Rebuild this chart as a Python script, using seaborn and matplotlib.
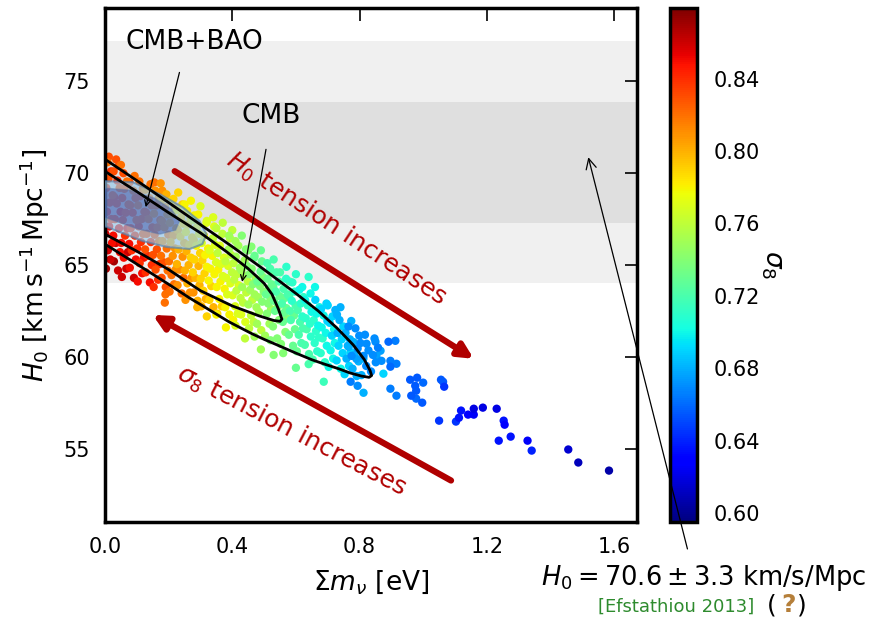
import numpy as np
import pandas as pd
import matplotlib
matplotlib.use("Agg")
import matplotlib.pyplot as plt
import seaborn as sns
from matplotlib.colors import Normalize
from matplotlib.cm import ScalarMappable

sns.set_style("white")
plt.rcParams["font.family"] = ["DejaVu Sans"]
plt.rcParams["mathtext.fontset"] = "dejavusans"
for k in ["text.color", "axes.labelcolor", "xtick.color", "ytick.color", "axes.edgecolor"]:
    plt.rcParams[k] = "black"

# ---------------- data ----------------
# scatter samples: sum of neutrino masses [eV]
mnu = [
    0.003, 0.017, 0.009, 0.022, 0.001, 0.013, 0.020, 0.006, 0.015, 0.024, 0.004, 0.011, 0.019, 0.008,
    0.041, 0.028, 0.047, 0.034, 0.026, 0.044, 0.031, 0.049, 0.037, 0.029, 0.046, 0.039, 0.027, 0.043,
    0.053, 0.067, 0.059, 0.072, 0.051, 0.063, 0.070, 0.056, 0.065, 0.074, 0.054, 0.061, 0.069, 0.058,
    0.091, 0.078, 0.097, 0.084, 0.076, 0.094, 0.081, 0.099, 0.087, 0.079, 0.096, 0.089, 0.077, 0.093,
    0.103, 0.117, 0.109, 0.122, 0.101, 0.113, 0.120, 0.106, 0.115, 0.124, 0.104, 0.111, 0.119, 0.108,
    0.141, 0.128, 0.147, 0.134, 0.126, 0.144, 0.131, 0.149, 0.137, 0.129, 0.146, 0.139, 0.127, 0.143,
    0.153, 0.167, 0.159, 0.172, 0.151, 0.163, 0.170, 0.156, 0.165, 0.174, 0.154, 0.161, 0.169, 0.158,
    0.191, 0.178, 0.197, 0.184, 0.176, 0.194, 0.181, 0.199, 0.187, 0.179, 0.196, 0.189, 0.177, 0.193, 0.190, 0.188,
    0.203, 0.217, 0.209, 0.222, 0.201, 0.213, 0.220, 0.206, 0.215, 0.224, 0.204, 0.211, 0.219, 0.208,
    0.241, 0.228, 0.247, 0.234, 0.226, 0.244, 0.231, 0.249, 0.237, 0.229, 0.246, 0.239, 0.227, 0.243,
    0.253, 0.267, 0.259, 0.272, 0.251, 0.263, 0.270, 0.256, 0.265, 0.274, 0.254, 0.261, 0.269, 0.258,
    0.291, 0.278, 0.297, 0.284, 0.276, 0.294, 0.281, 0.299, 0.287, 0.279, 0.296, 0.289, 0.277, 0.293,
    0.303, 0.317, 0.309, 0.301, 0.313, 0.320, 0.306, 0.315, 0.324, 0.304, 0.311, 0.319,
    0.341, 0.328, 0.334, 0.326, 0.344, 0.331, 0.349, 0.337, 0.329, 0.346, 0.339, 0.343,
    0.353, 0.367, 0.359, 0.351, 0.363, 0.370, 0.356, 0.365, 0.374, 0.354, 0.361, 0.369,
    0.391, 0.378, 0.384, 0.376, 0.394, 0.381, 0.399, 0.387, 0.379, 0.396, 0.389, 0.393,
    0.403, 0.417, 0.409, 0.401, 0.413, 0.420, 0.406, 0.415, 0.424, 0.404, 0.411, 0.419,
    0.441, 0.428, 0.434, 0.426, 0.444, 0.431, 0.449, 0.437, 0.429, 0.446, 0.439, 0.443,
    0.453, 0.467, 0.459, 0.451, 0.463, 0.470, 0.456, 0.465, 0.474, 0.454, 0.461, 0.469,
    0.491, 0.478, 0.484, 0.476, 0.494, 0.481, 0.499, 0.487, 0.479, 0.496, 0.489, 0.493,
    0.503, 0.517, 0.509, 0.522, 0.513, 0.520, 0.506, 0.515, 0.524, 0.511, 0.519,
    0.541, 0.528, 0.547, 0.534, 0.544, 0.531, 0.549, 0.537, 0.529, 0.546, 0.539,
    0.553, 0.567, 0.559, 0.572, 0.563, 0.570, 0.556, 0.565, 0.574, 0.561, 0.569,
    0.591, 0.578, 0.597, 0.584, 0.594, 0.581, 0.599, 0.587, 0.579, 0.596, 0.589, 0.640,
    0.603, 0.617, 0.609, 0.622, 0.613, 0.620, 0.606, 0.615, 0.624, 0.611,
    0.641, 0.628, 0.647, 0.634, 0.644, 0.631, 0.649, 0.637, 0.629, 0.646,
    0.653, 0.667, 0.659, 0.672, 0.663, 0.670, 0.656, 0.665, 0.674, 0.661,
    0.691, 0.678, 0.697, 0.684, 0.694, 0.681, 0.699, 0.687, 0.679, 0.696, 0.6875,
    0.703, 0.717, 0.709, 0.722, 0.713, 0.720, 0.706, 0.715, 0.724,
    0.741, 0.728, 0.747, 0.734, 0.744, 0.731, 0.749, 0.737, 0.729,
    0.753, 0.767, 0.759, 0.772, 0.763, 0.770, 0.756, 0.765, 0.774,
    0.791, 0.778, 0.797, 0.784, 0.794, 0.781, 0.799, 0.787,
    0.806, 0.821, 0.812, 0.828, 0.803, 0.817,
    0.836, 0.851, 0.842, 0.858, 0.847,
    0.766, 0.775, 0.790, 0.8125, 0.822, 0.850, 0.891, 0.9125, 0.866, 0.853, 0.869,
    0.897, 0.916, 0.897, 0.875, 0.897, 0.916, 0.772, 0.794, 0.8125,
    0.959, 0.981, 1.000, 0.975, 0.978, 0.9625, 0.978, 0.997,
    1.056, 1.0625, 1.066,
    1.050, 1.103, 1.1125, 1.119, 1.141, 1.159, 1.159, 1.1875, 1.231, 1.253, 1.256,
    1.2375, 1.275, 1.328, 1.341, 1.456, 1.4875, 1.584,
]
# Hubble constant [km/s/Mpc]
h0 = [
    64.8, 65.3, 65.8, 66.2, 66.7, 67.1, 67.5, 67.9, 68.4, 68.8, 69.2, 69.7, 70.1, 70.6,
    64.7, 65.2, 65.7, 66.2, 66.6, 67.0, 67.5, 67.9, 68.35, 68.7, 69.2, 69.6, 70.1, 70.4,
    64.35, 64.8, 65.4, 65.7, 66.2, 66.6, 67.0, 67.45, 67.85, 68.3, 68.65, 69.15, 69.55, 70.0,
    64.3, 64.85, 65.3, 65.8, 66.15, 66.6, 67.0, 67.45, 67.85, 68.25, 68.65, 69.05, 69.5, 69.85,
    64.1, 64.55, 65.1, 65.4, 65.9, 66.25, 66.7, 67.1, 67.5, 67.9, 68.25, 68.75, 69.15, 69.55,
    64.05, 64.6, 65.0, 65.5, 65.85, 66.25, 66.7, 67.05, 67.5, 67.85, 68.25, 68.65, 69.1, 69.4,
    63.8, 64.2, 64.75, 65.05, 65.55, 65.85, 66.3, 66.65, 67.05, 67.45, 67.8, 68.25, 68.65, 69.05,
    63.8, 64.3, 64.7, 65.15, 65.5, 65.9, 66.3, 66.65, 67.05, 67.4, 67.75, 68.15, 68.55, 68.85, 63.4, 62.95,
    63.55, 63.95, 64.45, 64.75, 65.2, 65.5, 65.9, 66.25, 66.6, 67.0, 67.3, 67.75, 68.15, 68.5,
    63.45, 63.9, 64.3, 64.75, 65.05, 65.45, 65.85, 66.2, 66.55, 66.9, 67.25, 67.6, 68.0, 68.3,
    63.1, 63.5, 64.0, 64.3, 64.7, 65.0, 65.4, 65.75, 66.1, 66.5, 66.8, 67.2, 67.55, 67.95,
    63.05, 63.5, 63.9, 64.3, 64.6, 64.95, 65.3, 65.65, 66.05, 66.35, 66.7, 67.05, 67.45, 67.75,
    62.75, 63.15, 63.6, 64.25, 64.55, 64.9, 65.25, 65.55, 65.9, 66.2, 66.6, 67.3,
    62.7, 63.1, 63.85, 64.15, 64.5, 64.8, 65.15, 65.5, 65.8, 66.1, 66.45, 67.1,
    62.35, 62.75, 63.15, 63.8, 64.1, 64.4, 64.75, 65.05, 65.4, 65.65, 66.05, 66.7,
    62.3, 62.7, 63.4, 63.7, 64.0, 64.3, 64.6, 64.95, 65.2, 65.55, 65.85, 66.45,
    62.0, 62.35, 62.75, 63.35, 63.6, 63.9, 64.2, 64.5, 64.85, 65.1, 65.45, 66.05,
    61.9, 62.3, 62.95, 63.2, 63.5, 63.8, 64.1, 64.4, 64.7, 64.95, 65.25, 65.85,
    61.55, 61.9, 62.25, 62.85, 63.1, 63.4, 63.65, 63.95, 64.25, 64.5, 64.8, 65.4,
    61.45, 61.8, 62.45, 62.7, 63.0, 63.25, 63.55, 63.85, 64.1, 64.35, 64.65, 65.2,
    61.15, 61.8, 62.35, 62.6, 62.9, 63.15, 63.4, 63.7, 63.95, 64.25, 64.8,
    61.0, 61.65, 62.0, 62.5, 62.75, 63.05, 63.3, 63.55, 63.8, 64.1, 64.6,
    60.7, 61.35, 61.9, 62.1, 62.4, 62.65, 62.9, 63.2, 63.4, 63.7, 64.25,
    60.6, 61.2, 61.5, 62.0, 62.25, 62.5, 62.8, 63.05, 63.3, 63.55, 64.05, 64.35,
    60.3, 60.75, 61.2, 61.55, 61.9, 62.2, 62.55, 62.9, 63.25, 63.65,
    60.15, 60.65, 61.1, 61.5, 61.8, 62.1, 62.45, 62.8, 63.1, 63.45,
    59.85, 60.3, 60.75, 61.05, 61.4, 61.7, 62.0, 62.35, 62.7, 63.1,
    59.7, 60.2, 60.6, 61.0, 61.3, 61.6, 61.95, 62.25, 62.6, 62.9, 58.64,
    59.45, 59.9, 60.35, 60.75, 61.15, 61.5, 61.85, 62.2, 62.55,
    59.35, 59.8, 60.2, 60.6, 60.95, 61.3, 61.65, 62.0, 62.3,
    59.05, 59.5, 59.9, 60.25, 60.6, 60.95, 61.3, 61.65, 61.95,
    58.95, 59.35, 59.75, 60.1, 60.45, 60.8, 61.15, 61.55,
    59.0, 59.5, 59.9, 60.35, 60.75, 61.2,
    59.2, 59.7, 60.1, 60.5, 61.0,
    60.54, 60.05, 59.89, 60.05, 60.71, 60.82, 60.82, 60.87, 60.33, 60.05, 59.78,
    59.78, 59.62, 59.46, 59.08, 58.26, 57.88, 58.64, 58.42, 58.04,
    58.75, 58.86, 58.59, 58.42, 58.15, 57.88, 57.72, 57.50,
    58.75, 58.64, 58.37,
    56.52, 56.47, 56.68, 57.07, 56.85, 57.17, 56.85, 57.23, 57.17, 56.52, 56.30,
    55.43, 55.65, 55.43, 54.89, 54.95, 54.24, 53.80,
]
# sigma_8 of each sample
sigma8 = [
    0.87, 0.86, 0.86, 0.85, 0.86, 0.85, 0.84, 0.85, 0.84, 0.83, 0.84, 0.83, 0.84, 0.82,
    0.86, 0.87, 0.85, 0.86, 0.85, 0.85, 0.84, 0.85, 0.84, 0.84, 0.83, 0.84, 0.83, 0.83,
    0.86, 0.86, 0.85, 0.86, 0.85, 0.84, 0.85, 0.84, 0.84, 0.83, 0.84, 0.83, 0.82, 0.83,
    0.86, 0.85, 0.85, 0.84, 0.85, 0.84, 0.84, 0.83, 0.84, 0.83, 0.83, 0.82, 0.83, 0.82,
    0.85, 0.85, 0.84, 0.85, 0.84, 0.84, 0.83, 0.84, 0.83, 0.83, 0.82, 0.83, 0.82, 0.82,
    0.85, 0.84, 0.84, 0.84, 0.83, 0.84, 0.83, 0.83, 0.82, 0.83, 0.82, 0.82, 0.81, 0.82,
    0.84, 0.84, 0.83, 0.84, 0.83, 0.83, 0.82, 0.83, 0.82, 0.82, 0.81, 0.82, 0.81, 0.81,
    0.83, 0.83, 0.82, 0.83, 0.82, 0.82, 0.81, 0.82, 0.81, 0.81, 0.80, 0.81, 0.80, 0.80, 0.82, 0.82,
    0.82, 0.82, 0.82, 0.81, 0.82, 0.81, 0.81, 0.80, 0.81, 0.80, 0.80, 0.79, 0.80, 0.79,
    0.82, 0.81, 0.82, 0.81, 0.80, 0.81, 0.80, 0.80, 0.79, 0.80, 0.79, 0.79, 0.78, 0.79,
    0.81, 0.81, 0.80, 0.81, 0.80, 0.80, 0.79, 0.80, 0.79, 0.79, 0.78, 0.79, 0.78, 0.78,
    0.80, 0.81, 0.80, 0.80, 0.79, 0.80, 0.79, 0.79, 0.78, 0.79, 0.78, 0.78, 0.77, 0.78,
    0.80, 0.80, 0.79, 0.79, 0.79, 0.78, 0.79, 0.78, 0.78, 0.77, 0.78, 0.77,
    0.80, 0.79, 0.79, 0.78, 0.78, 0.78, 0.77, 0.78, 0.77, 0.77, 0.76, 0.77,
    0.79, 0.79, 0.78, 0.78, 0.78, 0.77, 0.78, 0.77, 0.77, 0.76, 0.77, 0.76,
    0.78, 0.78, 0.77, 0.78, 0.77, 0.77, 0.76, 0.77, 0.76, 0.76, 0.75, 0.76,
    0.78, 0.77, 0.77, 0.77, 0.76, 0.77, 0.76, 0.76, 0.75, 0.76, 0.75, 0.75,
    0.77, 0.77, 0.76, 0.76, 0.76, 0.75, 0.76, 0.75, 0.75, 0.74, 0.75, 0.74,
    0.76, 0.76, 0.76, 0.75, 0.76, 0.75, 0.75, 0.74, 0.75, 0.74, 0.74, 0.73,
    0.76, 0.75, 0.75, 0.75, 0.74, 0.75, 0.74, 0.74, 0.73, 0.74, 0.73, 0.73,
    0.75, 0.75, 0.74, 0.75, 0.74, 0.74, 0.73, 0.74, 0.73, 0.73, 0.72,
    0.74, 0.74, 0.74, 0.73, 0.74, 0.73, 0.73, 0.72, 0.73, 0.72, 0.72,
    0.74, 0.74, 0.73, 0.74, 0.73, 0.73, 0.72, 0.73, 0.72, 0.72, 0.71,
    0.73, 0.73, 0.73, 0.72, 0.73, 0.72, 0.72, 0.71, 0.72, 0.71, 0.71, 0.71,
    0.73, 0.72, 0.72, 0.72, 0.72, 0.71, 0.72, 0.71, 0.71, 0.70,
    0.72, 0.72, 0.71, 0.72, 0.71, 0.71, 0.70, 0.71, 0.70, 0.70,
    0.72, 0.71, 0.71, 0.71, 0.71, 0.70, 0.71, 0.70, 0.70, 0.69,
    0.71, 0.71, 0.70, 0.71, 0.70, 0.70, 0.69, 0.70, 0.69, 0.69, 0.715,
    0.70, 0.70, 0.70, 0.70, 0.69, 0.70, 0.69, 0.69, 0.68,
    0.70, 0.69, 0.69, 0.69, 0.69, 0.68, 0.69, 0.68, 0.68,
    0.69, 0.69, 0.68, 0.69, 0.68, 0.68, 0.68, 0.67, 0.68,
    0.68, 0.68, 0.68, 0.68, 0.67, 0.68, 0.67, 0.67,
    0.68, 0.67, 0.68, 0.67, 0.67, 0.67,
    0.67, 0.67, 0.67, 0.665, 0.67,
    0.68, 0.67, 0.675, 0.67, 0.67, 0.67, 0.66, 0.665, 0.675, 0.675, 0.67,
    0.665, 0.665, 0.66, 0.69, 0.665, 0.665, 0.665, 0.67, 0.68,
    0.655, 0.655, 0.66, 0.655, 0.655, 0.655, 0.66, 0.655,
    0.655, 0.655, 0.645,
    0.645, 0.645, 0.635, 0.635, 0.63, 0.62, 0.625, 0.62, 0.62, 0.635, 0.63,
    0.635, 0.635, 0.625, 0.64, 0.615, 0.61, 0.605,
]

# extra samples on the upper and lower fringes of the cloud
mnu_edge = [0.012, 0.035, 0.050, 0.155, 0.175, 0.180, 0.215, 0.230, 0.250, 0.270, 0.280,
            0.300, 0.320, 0.340, 0.350, 0.370, 0.390, 0.400, 0.410, 0.430, 0.450, 0.460,
            0.470, 0.490, 0.510, 0.520, 0.530, 0.550, 0.570, 0.580, 0.600, 0.620, 0.660,
            0.700, 0.740,
            0.290, 0.320, 0.350, 0.380, 0.410, 0.440, 0.470, 0.490, 0.520, 0.530, 0.560,
            0.600, 0.640]
h0_edge = [70.9, 70.75, 70.45, 69.5, 69.45, 69.05, 68.6, 68.95, 68.3, 68.5, 67.7,
           68.2, 67.4, 67.6, 67.0, 67.3, 66.6, 66.9, 66.3, 66.6, 65.8, 66.0,
           65.5, 65.8, 65.1, 64.7, 65.3, 64.6, 64.9, 64.1, 64.5, 63.8, 63.8,
           62.8, 62.7,
           62.7, 62.2, 62.3, 61.6, 61.7, 61.0, 61.1, 60.4, 60.9, 60.1, 60.2,
           59.4, 59.6]
s8_edge = [0.83, 0.83, 0.82, 0.82, 0.81, 0.81, 0.79, 0.79, 0.78, 0.78, 0.78,
           0.77, 0.77, 0.77, 0.76, 0.76, 0.75, 0.76, 0.75, 0.74, 0.74, 0.74,
           0.73, 0.73, 0.72, 0.73, 0.72, 0.72, 0.71, 0.72, 0.71, 0.70, 0.70,
           0.69, 0.68,
           0.80, 0.79, 0.78, 0.78, 0.77, 0.76, 0.75, 0.75, 0.74, 0.74, 0.74,
           0.73, 0.72]

# CMB contours (68% inner, 95% outer)
cmb95_x = [-0.03, 0.0, 0.1, 0.2, 0.3, 0.4, 0.5, 0.6, 0.67, 0.73, 0.78, 0.815, 0.833, 0.838,
           0.83, 0.806, 0.77, 0.734, 0.69, 0.65, 0.6, 0.547, 0.5, 0.4625, 0.39, 0.3, 0.266,
           0.2, 0.1, 0.0, -0.03]
cmb95_y = [71.1, 70.76, 69.6, 68.4, 67.2, 66.0, 64.75, 63.45, 62.5, 61.55, 60.65, 59.85, 59.25, 58.98,
           58.88, 58.95, 59.12, 59.35, 59.6, 59.84, 60.2, 60.6, 60.95, 61.25, 61.9, 62.85, 63.2,
           63.95, 65.05, 66.14, 66.5]
cmb68_x = [-0.03, 0.0, 0.1, 0.2, 0.3, 0.38, 0.45, 0.5, 0.525, 0.545, 0.556,
           0.55, 0.53, 0.484, 0.4, 0.3, 0.2, 0.1, 0.0, -0.03]
cmb68_y = [70.4, 70.1, 69.0, 67.85, 66.75, 65.75, 64.8, 64.0, 63.4, 62.6, 62.05,
           61.93, 61.98, 62.23, 62.77, 63.6, 64.75, 65.75, 66.68, 67.0]

# CMB+BAO contours
bao95_x = [-0.016, 0.006, 0.0875, 0.172, 0.244, 0.297, 0.319, 0.306, 0.266, 0.194, 0.119, 0.047, 0.006, -0.016]
bao95_y = [69.57, 69.57, 69.51, 68.86, 68.15, 67.39, 66.68, 66.14, 65.87, 65.98, 66.30, 66.79, 67.07, 67.17]
bao68_x = [-0.016, 0.006, 0.078, 0.156, 0.209, 0.234, 0.222, 0.172, 0.103, 0.041, 0.006, -0.016]
bao68_y = [69.13, 69.18, 69.08, 68.64, 68.04, 67.39, 66.90, 66.68, 66.96, 67.34, 67.55, 67.61]

# local H0 measurement
h0_local = 70.6
h0_err = 3.3

xticks = [0.0, 0.4, 0.8, 1.2, 1.6]
yticks = [55, 60, 65, 70, 75]
cbticks = [0.60, 0.64, 0.68, 0.72, 0.76, 0.80, 0.84]
s8_min, s8_max = 0.595, 0.879

# ---------------- figure ----------------
W, H = 876, 624
fig = plt.figure(figsize=(W / 100, H / 100), dpi=100)
ax = fig.add_axes([105 / W, 1 - 522 / H, (637 - 105) / W, (522 - 8) / H])
cax = fig.add_axes([670 / W, 1 - 522 / H, 27 / W, (522 - 8) / H])

ax.axhspan(h0_local - 2 * h0_err, h0_local + 2 * h0_err, color="#f0f0f0", lw=0, zorder=0)
ax.axhspan(h0_local - h0_err, h0_local + h0_err, color="#dfdfdf", lw=0, zorder=0.5)

jet = matplotlib.colormaps["jet"]
df = pd.DataFrame({"mnu": mnu + mnu_edge, "H0": h0 + h0_edge, "s8": sigma8 + s8_edge})
df = df.sort_values("s8", ascending=False)
sns.scatterplot(data=df, x="mnu", y="H0", hue="s8", palette=jet,
                hue_norm=(s8_min, s8_max), s=36, linewidth=0, legend=False,
                ax=ax, zorder=2)

ax.fill(bao95_x, bao95_y, facecolor="#96c8ec", alpha=0.65, edgecolor="#4f7fae", lw=1.5, zorder=3)
ax.fill(bao68_x, bao68_y, facecolor="#2d3f9a", alpha=0.45, edgecolor="#5878a8", lw=1.0, zorder=3.1)

ax.plot(cmb95_x + [cmb95_x[0]], cmb95_y + [cmb95_y[0]], color="k", lw=2.0, zorder=4)
ax.plot(cmb68_x + [cmb68_x[0]], cmb68_y + [cmb68_y[0]], color="k", lw=2.0, zorder=4)

red = "#b00000"
ax.annotate("", xy=(1.159, 59.89), xytext=(0.219, 70.11),
            arrowprops=dict(arrowstyle="-|>", lw=4.5, color=red, mutation_scale=22,
                            shrinkA=0, shrinkB=0), zorder=5)
ax.annotate("", xy=(0.150, 62.28), xytext=(1.0875, 53.26),
            arrowprops=dict(arrowstyle="-|>", lw=4.5, color=red, mutation_scale=22,
                            shrinkA=0, shrinkB=0), zorder=5)
ax.text(0.728, 66.95, r"$H_0$ tension increases", rotation=-33.4, rotation_mode="anchor",
        ha="center", va="center", color=red, fontsize=18, zorder=6)
ax.text(0.585, 55.95, r"$\sigma_8$ tension increases", rotation=-27.5, rotation_mode="anchor",
        ha="center", va="center", color=red, fontsize=18, zorder=6)

ax.text(0.281, 77.17, "CMB+BAO", ha="center", va="center", fontsize=19, zorder=6)
ax.annotate("", xy=(0.128, 68.15), xytext=(0.234, 75.49),
            arrowprops=dict(arrowstyle="->", lw=0.9, color="k", shrinkA=0, shrinkB=0), zorder=6)
ax.text(0.522, 73.10, "CMB", ha="center", va="center", fontsize=19, zorder=6)
ax.annotate("", xy=(0.431, 64.08), xytext=(0.506, 71.30),
            arrowprops=dict(arrowstyle="->", lw=0.9, color="k", shrinkA=0, shrinkB=0), zorder=6)

ax.annotate(r"$H_0 = %.1f \pm %.1f$ km/s/Mpc" % (h0_local, h0_err),
            xy=(1.519, 70.87), xycoords="data",
            xytext=(704 / W, 1 - 578 / H), textcoords="figure fraction",
            ha="center", va="center", fontsize=18.5, annotation_clip=False,
            arrowprops=dict(arrowstyle="->", lw=0.9, color="k", shrinkA=8, shrinkB=0,
                            relpos=(0.46, 1.0)), zorder=7)
fig.text(598 / W, 1 - 607 / H, "[Efstathiou 2013]", color="#2e8b2e", fontsize=13,
         ha="left", va="center")
fig.text(767 / W, 1 - 605 / H, "(", color="k", fontsize=18, ha="left", va="center")
fig.text(781 / W, 1 - 605 / H, "?", color="#b57f3a", fontsize=18, fontweight="bold",
         ha="left", va="center")
fig.text(797 / W, 1 - 605 / H, ")", color="k", fontsize=18, ha="left", va="center")

ax.set_zorder(3)
ax.set_xlim(0, 1.672)
ax.set_ylim(51, 79)
ax.set_xticks(xticks)
ax.set_xticklabels(["%.1f" % t for t in xticks])
ax.set_yticks(yticks)
ax.tick_params(direction="in", top=True, right=True, length=9, width=1.2,
               labelsize=15, pad=11, colors="k")
for sp in ax.spines.values():
    sp.set_linewidth(2.5)
    sp.set_color("k")
ax.set_xlabel(r"$\Sigma m_\nu$ [eV]", fontsize=19, labelpad=8)
ax.set_ylabel(r"$H_0\;[\mathrm{km\,s^{-1}\,Mpc^{-1}}]$", fontsize=19, labelpad=8)

sm = ScalarMappable(norm=Normalize(s8_min, s8_max), cmap=jet)
cb = fig.colorbar(sm, cax=cax)
cb.set_ticks(cbticks)
cb.set_ticklabels(["%.2f" % t for t in cbticks])
cb.ax.tick_params(direction="in", length=9, width=1.2, labelsize=15, pad=12, colors="k")
cb.outline.set_linewidth(2.5)
cb.outline.set_edgecolor("k")
cb.set_label(r"$\sigma_8$", rotation=270, fontsize=19, labelpad=18)

fig.savefig("out.png", dpi=100)
